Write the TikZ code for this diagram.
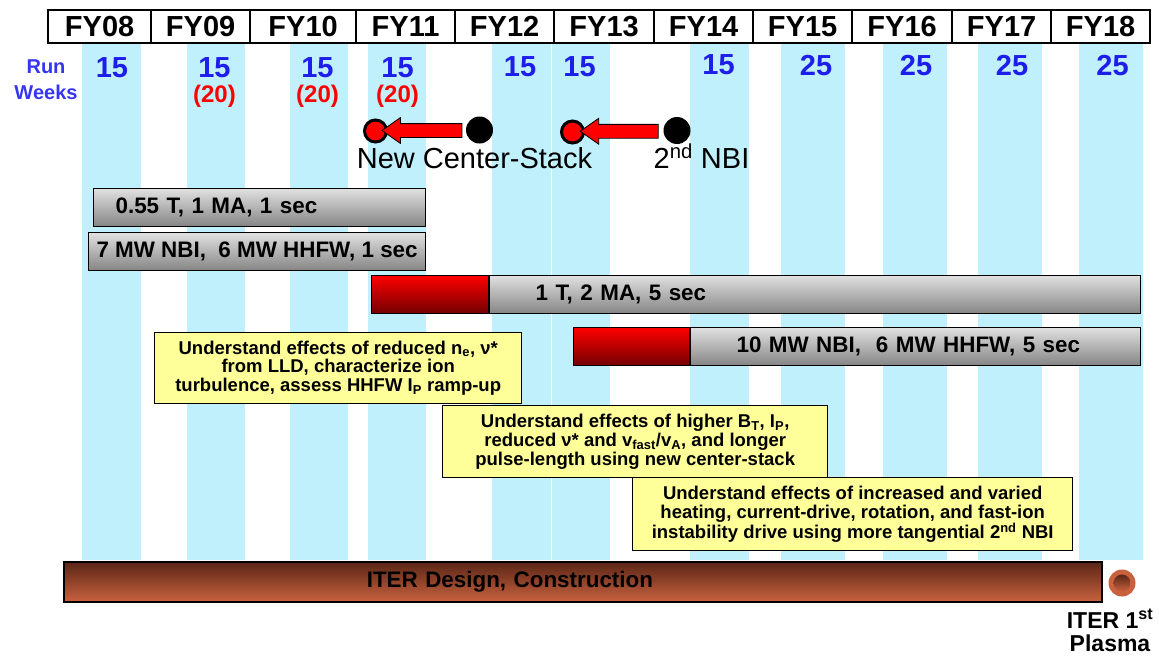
\documentclass[tikz,border=0pt]{standalone}
\usepackage{fontspec}
\setmainfont{Liberation Sans}
\usepackage{xcolor}
\usepackage{tikz}
\usetikzlibrary{arrows.meta,positioning,shapes.arrows}
\definecolor{stripe}{HTML}{C0F0FC}
\definecolor{runblue}{HTML}{3535F2}
\definecolor{wkblue}{HTML}{1E1EEA}
\definecolor{notefill}{HTML}{FFFF99}
\definecolor{iterdark}{HTML}{5A2616}
\definecolor{iterlight}{HTML}{C9613F}

\begin{document}
\begin{tikzpicture}[x=1pt, y=-1pt,
  every node/.style={font=\bfseries},
  fy/.style   ={draw, line width=2.2pt, fill=white, minimum height=33, inner sep=0pt,
                anchor=north west, font=\fontsize{29}{30}\selectfont\bfseries},
  wk/.style   ={text=wkblue, font=\fontsize{29}{30}\selectfont\bfseries},
  ex/.style   ={text=red, font=\fontsize{24}{26}\selectfont\bfseries},
  redring/.style ={circle, draw=black, line width=3pt, fill=red, minimum size=22, inner sep=0pt},
  blackdot/.style={circle, fill=black, minimum size=27, inner sep=0pt},
  blk/.style  ={single arrow, draw=black, line width=0.8pt, fill=red, shape border rotate=180,
                inner xsep=0pt, inner ysep=6.5pt, single arrow head extend=6, single arrow tip angle=70},
  ms/.style   ={anchor=base, font=\fontsize{29}{31}\selectfont},
  gbar/.style ={draw=black, line width=1.2pt, top color=black!12, middle color=black!2,
                bottom color=black!48, minimum height=38, inner ysep=0pt, anchor=north west,
                font=\fontsize{22.4}{24}\selectfont\bfseries},
  rbar/.style ={draw=black, line width=1.2pt, top color=red, middle color=red!92!black,
                bottom color=red!45!black, minimum height=38, inner sep=0pt},
  notebox/.style={draw, line width=1.4pt, fill=notefill, align=center, inner sep=0pt,
                anchor=north west, font=\fontsize{18.5}{18.8}\selectfont\bfseries},
  iterbar/.style={draw=black, line width=1.6pt, top color=iterdark, bottom color=iterlight,
                minimum height=40, inner ysep=0pt, anchor=north west,
                font=\fontsize{22.4}{24}\selectfont\bfseries}
]
  \useasboundingbox (0,0) rectangle (1159,656);
  \foreach \xa/\xb in {82/141,187/245,290/348,368/426,492/551,551/610,690/749,781/845,883/947,978/1042,1079/1143}
    \fill[stripe] (\xa,42) rectangle (\xb,560);
  \draw[white, line width=1pt] (551,42) -- (551,560);

  \foreach \xa/\xb/\t in {47/150/FY08,150/249/FY09,249/355/FY10,355/454/FY11,454/553/FY12,553/653/FY13,
                          653/752/FY14,752/851/FY15,851/951/FY16,951/1050/FY17,1050/1149/FY18}
    \node[fy, minimum width=\xb-\xa] (\t) at (\xa,9) {\t};

  \node[align=center, text=runblue, font=\fontsize{20}{26}\selectfont\bfseries] (runwk) at (46,80) {Run\\Weeks};
  \foreach \x/\y/\n [count=\i] in {112/68/15,214.5/68/15,317.5/68/15,397.5/68/15,520/67/15,579.5/67/15,
                                  718.5/65/15,816/66/25,916/66/25,1012/66/25,1112.5/66/25}
    \node[wk] (wk\i) at (\x,\y) {\n};
  \foreach \x [count=\i] in {214.5,317.5,397.5}
    \node[ex] (ex\i) at (\x,96) {(20)};

  \node[redring]  (csnew)  at (375.5,131) {};
  \node[blackdot] (csold)  at (479.5,130) {};
  \node[redring]  (nbinew) at (572.5,132) {};
  \node[blackdot] (nbiold) at (677,130.5) {};
  \path (csold.west) -- (csnew.east) node[blk, midway, minimum height=80] {};
  \path (nbiold.west) -- (nbinew.east) node[blk, midway, minimum height=78] {};
  \node[ms] (cslbl)  at (474.5,168) {New Center-Stack};
  \node[ms] (nbilbl) at (701.5,168) {2\textsuperscript{nd} NBI};

  \node[gbar, text width=288, inner xsep=22, align=left] (b1) at (93,188) {0.55 T, 1 MA, 1 sec};
  \node[gbar, minimum width=337, inner xsep=0pt] (b2) at (88,232) {7 MW NBI,\ \ 6 MW HHFW, 1 sec};
  \node[gbar, text width=559, inner xsep=46, align=left] (b3) at (489,275) {1 T, 2 MA, 5 sec};
  \node[rbar, minimum width=117, left=0pt of b3] (b3r) {};
  \node[gbar, text width=358, inner xsep=46, align=left] (b4) at (690,327) {10 MW NBI,\ \ 6 MW HHFW, 5 sec};
  \node[rbar, minimum width=116, left=0pt of b4] (b4r) {};

  \node[notebox, minimum width=367, minimum height=71] (n1) at (154,332)
    {Understand effects of reduced n\textsubscript{e}, ν*\\from LLD, characterize ion\\turbulence, assess HHFW I\textsubscript{P} ramp-up};
  \node[notebox, minimum width=385, minimum height=72] (n2) at (442,405)
    {Understand effects of higher B\textsubscript{T}, I\textsubscript{P},\\reduced ν* and v\textsubscript{fast}/v\textsubscript{A}, and longer\\pulse-length using new center-stack};
  \node[notebox, minimum width=440, minimum height=73] (n3) at (632,477)
    {Understand effects of increased and varied\\heating, current-drive, rotation, and fast-ion\\instability drive using more tangential 2\textsuperscript{nd} NBI};

  \node[iterbar, text width=432, inner xsep=303, align=left] (iter) at (63,561) {ITER Design, Construction};
  \node[circle, fill=iterlight, minimum size=27, inner sep=0pt] (first) at (1122,583) {};
  \node[circle, top color=iterdark, bottom color=iterlight, minimum size=17, inner sep=0pt] at (first) {};
  \node[align=center, anchor=south, inner sep=0pt, font=\fontsize{23}{23}\selectfont\bfseries] (firstlbl) at (1110,652)
    {ITER 1\textsuperscript{st}\\Plasma};
\end{tikzpicture}
\end{document}
